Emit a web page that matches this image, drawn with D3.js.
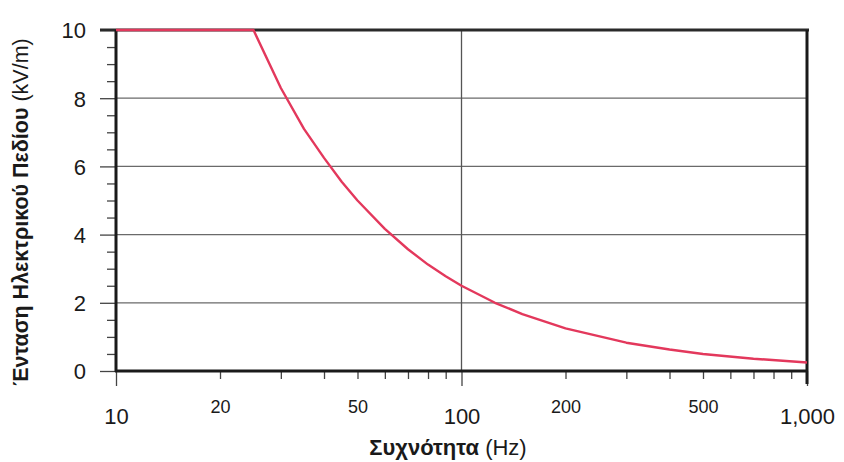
<!DOCTYPE html>
<html>
<head>
<meta charset="utf-8">
<script src="https://cdn.jsdelivr.net/npm/d3@7"></script>
<style>
  body { margin: 0; background: #fff; }
  text { font-family: "Liberation Sans", Arial, sans-serif; fill: #1a1a1a; }
</style>
</head>
<body>
<div id="chart"></div>
<script>
// values
const freq = [10, 25, 30, 35, 40, 45, 50, 60, 70, 80, 90, 100, 125, 150, 200, 300, 400, 500, 700, 1000];
const field = [10, 10, 8.3, 7.1, 6.25, 5.55, 5.0, 4.17, 3.57, 3.12, 2.78, 2.5, 2.0, 1.67, 1.25, 0.83, 0.63, 0.5, 0.36, 0.25];

const yTicks = [0, 2, 4, 6, 8, 10];
const yMinorTicks = [0.5, 1, 1.5, 2.5, 3, 3.5, 4.5, 5, 5.5, 6.5, 7, 7.5, 8.5, 9, 9.5];
const xBigTicks = [10, 100, 1000];
const xSmallTicks = [20, 50, 200, 500];
const xMinorTicks = [20, 30, 40, 50, 60, 70, 80, 90, 200, 300, 400, 500, 600, 700, 800, 900];
const xBigLabels = ["10", "100", "1,000"];
const xSmallLabels = ["20", "50", "200", "500"];

const w = 844,
  h = 462;
const mLeft = 116,
  mRight = 807,
  mTop = 30,
  mBottom = 371;

const svg = d3
  .select("#chart")
  .append("svg")
  .attr("width", w)
  .attr("height", h);

const x = d3.scaleLog().domain([10, 1000]).range([mLeft, mRight]);
const y = d3.scaleLinear().domain([0, 10]).range([mBottom, mTop]);

// horizontal grid
svg
  .append("g")
  .selectAll("line")
  .data([2, 4, 6, 8])
  .enter()
  .append("line")
  .attr("x1", mLeft)
  .attr("x2", mRight)
  .attr("y1", (d) => y(d))
  .attr("y2", (d) => y(d))
  .attr("stroke", "#6a6a6a")
  .attr("stroke-width", 1.3);

// vertical grid at 100
svg
  .append("line")
  .attr("x1", x(100))
  .attr("x2", x(100))
  .attr("y1", mTop)
  .attr("y2", mBottom)
  .attr("stroke", "#555")
  .attr("stroke-width", 1.3);

// y axis (major + minor ticks)
const yAxis = d3.axisLeft(y).tickValues(yTicks).tickSize(16).tickPadding(14).tickFormat(d3.format("d"));
const gy = svg.append("g").attr("transform", `translate(${mLeft},0)`).call(yAxis);
gy.select(".domain").remove();
gy.selectAll(".tick line").attr("stroke", "#444").attr("stroke-width", 1.3);
gy.selectAll("text").style("font-size", "22px").attr("dy", "0.36em");

const yMinor = d3.axisLeft(y).tickValues(yMinorTicks).tickSize(9).tickFormat("");
const gym = svg.append("g").attr("transform", `translate(${mLeft},0)`).call(yMinor);
gym.select(".domain").remove();
gym.selectAll(".tick line").attr("stroke", "#444").attr("stroke-width", 1.3);

// x axis
const xMinor = d3.axisBottom(x).tickValues(xMinorTicks).tickSize(8).tickFormat("");
const gxm = svg.append("g").attr("transform", `translate(0,${mBottom})`).call(xMinor);
gxm.select(".domain").remove();
gxm.selectAll(".tick line").attr("stroke", "#444").attr("stroke-width", 1.3);

const xMajor = d3
  .axisBottom(x)
  .tickValues(xBigTicks)
  .tickSize(15)
  .tickPadding(22)
  .tickFormat((d, i) => xBigLabels[i]);
const gx = svg.append("g").attr("transform", `translate(0,${mBottom})`).call(xMajor);
gx.select(".domain").remove();
gx.selectAll(".tick line").attr("stroke", "#444").attr("stroke-width", 1.3);
gx.selectAll("text").style("font-size", "22px");

const xLab = d3
  .axisBottom(x)
  .tickValues(xSmallTicks)
  .tickSize(0)
  .tickPadding(29)
  .tickFormat((d, i) => xSmallLabels[i]);
const gxl = svg.append("g").attr("transform", `translate(0,${mBottom})`).call(xLab);
gxl.select(".domain").remove();
gxl.selectAll("text").style("font-size", "18px");

// frame
svg
  .append("line")
  .attr("x1", mLeft - 16)
  .attr("x2", mRight + 2)
  .attr("y1", mTop)
  .attr("y2", mTop)
  .attr("stroke", "#2a2a2a")
  .attr("stroke-width", 3);
svg
  .append("line")
  .attr("x1", mRight)
  .attr("x2", mRight)
  .attr("y1", mTop)
  .attr("y2", mBottom + 13)
  .attr("stroke", "#1a1a1a")
  .attr("stroke-width", 3);
svg
  .append("line")
  .attr("x1", mLeft)
  .attr("x2", mLeft)
  .attr("y1", mTop)
  .attr("y2", mBottom + 1)
  .attr("stroke", "#1a1a1a")
  .attr("stroke-width", 3);
svg
  .append("line")
  .attr("x1", mLeft - 1)
  .attr("x2", mRight + 1)
  .attr("y1", mBottom)
  .attr("y2", mBottom)
  .attr("stroke", "#1a1a1a")
  .attr("stroke-width", 3);

// curve
const line = d3
  .line()
  .x((d, i) => x(freq[i]))
  .y((d) => y(d));

svg
  .append("path")
  .datum(field)
  .attr("d", line)
  .attr("fill", "none")
  .attr("stroke", "#e3385c")
  .attr("stroke-width", 2.4)
  .attr("stroke-linejoin", "round");

// titles
const xt = svg
  .append("text")
  .attr("x", 448)
  .attr("y", 455)
  .attr("text-anchor", "middle")
  .style("font-size", "22px");
xt.append("tspan").style("font-weight", "bold").text("Συχνότητα");
xt.append("tspan").text(" (Hz)");

const yt = svg
  .append("text")
  .attr("transform", "translate(28,212) rotate(-90)")
  .attr("text-anchor", "middle")
  .style("font-size", "21.5px");
yt.append("tspan").style("font-weight", "bold").text("Ένταση Ηλεκτρικού Πεδίου");
yt.append("tspan").text(" (kV/m)");
</script>
</body>
</html>
